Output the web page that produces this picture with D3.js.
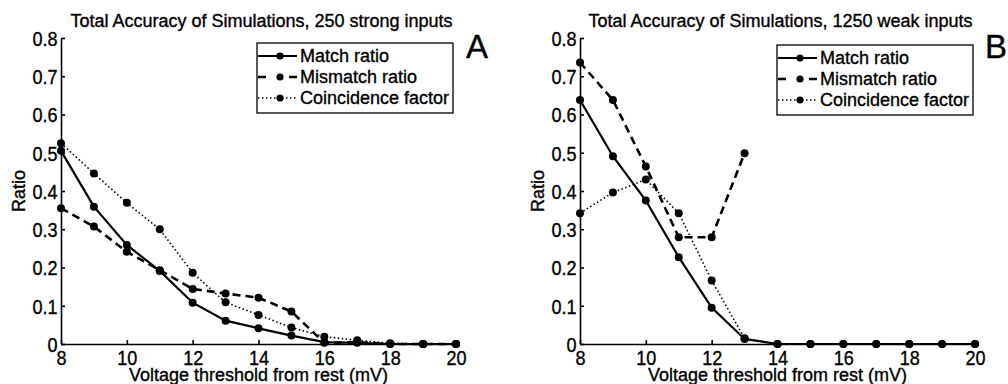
<!DOCTYPE html>
<html><head><meta charset="utf-8">
<script src="https://cdn.jsdelivr.net/npm/d3@7"></script>
<style>
body{margin:0;background:#fff}
svg text{font-family:"Liberation Sans",Arial,Helvetica,sans-serif;fill:#000;stroke:#000;stroke-width:0.35px}
</style>
</head><body>
<svg id="chart" width="1008" height="384"></svg>
<script>
const voltages = [8,9,10,11,12,13,14,15,16,17,18,19,20];
const xTicks = [8,10,12,14,16,18,20];
const yTicks = [0,0.1,0.2,0.3,0.4,0.5,0.6,0.7,0.8];
const yTickLabels = ["0","0.1","0.2","0.3","0.4","0.5","0.6","0.7","0.8"];
const seriesNames = ["Match ratio","Mismatch ratio","Coincidence factor"];
const panelTitles = ["Total Accuracy of Simulations, 250 strong inputs","Total Accuracy of Simulations, 1250 weak inputs"];
const panelLetters = ["A","B"];
const xLabel = "Voltage threshold from rest (mV)";
const yLabel = "Ratio";

const matchA    = [0.505,0.359,0.259,0.191,0.108,0.061,0.041,0.022,0.005,0.003,0,0,0];
const mismatchA = [0.355,0.307,0.241,0.193,0.144,0.132,0.121,0.085,0.003,0.005,0,0,0];
const coincA    = [0.525,0.446,0.369,0.300,0.186,0.109,0.076,0.043,0.019,0.010,0.002,0,0];

const matchB    = [0.638,0.491,0.375,0.227,0.095,0.013,0,0,0,0,0,0,0];
const mismatchB = [0.736,0.638,0.464,0.279,0.279,0.499,null,null,null,null,null,null,null];
const coincB    = [0.342,0.396,0.430,0.342,0.166,0.015,0,0,0,0,0,0,0];

const panels = [
  {left:61, right:456, series:[matchA,mismatchA,coincA], legend:{x:257,y:43,w:196,h:70}},
  {left:580, right:975, series:[matchB,mismatchB,coincB], legend:{x:777,y:45,w:196,h:70}}
];
const styles = [
  {dash:null, legendDash:null, width:2.2},
  {dash:"8,5", legendDash:"8,23", width:2.6},
  {dash:"1.5,2.5", legendDash:"1.5,2.5", width:1.6}
];
const plotTop = 38, plotBottom = 344;
const svg = d3.select("#chart");

panels.forEach((p, pi) => {
  const x = d3.scaleLinear().domain([8,20]).range([p.left, p.right]);
  const y = d3.scaleLinear().domain([0,0.8]).range([plotBottom, plotTop]);
  const g = svg.append("g");

  g.append("text").attr("x", (p.left+p.right)/2 + 3).attr("y", 27)
    .attr("text-anchor","middle").style("font-size","18px").text(panelTitles[pi]);
  g.append("text").attr("x", p.right + 10).attr("y", 58)
    .style("font-size","33px").text(panelLetters[pi]);

  const yAxis = d3.axisLeft(y).tickValues(yTicks).tickFormat((d,i)=>yTickLabels[i])
    .tickSizeInner(-4).tickSizeOuter(0).tickPadding(4);
  const ya = g.append("g").attr("transform",`translate(${p.left},0)`).call(yAxis);
  ya.selectAll("text").style("font-size","20.5px").attr("dy","0.36em")
    .attr("transform","scale(0.88,1)");
  ya.selectAll("path,line").attr("stroke","#000").attr("stroke-width",1.6);

  const xAxis = d3.axisBottom(x).tickValues(xTicks).tickFormat(d3.format("d"))
    .tickSizeInner(-4).tickSizeOuter(0).tickPadding(6);
  const xa = g.append("g").attr("transform",`translate(0,${plotBottom})`).call(xAxis);
  xa.selectAll("text").style("font-size","20.5px").attr("transform","scale(0.88,1)");
  xa.selectAll("path,line").attr("stroke","#000").attr("stroke-width",1.6);

  g.append("text").attr("x",(p.left+p.right)/2).attr("y",381)
    .attr("text-anchor","middle").style("font-size","18px").text(xLabel);
  g.append("text").attr("transform",`translate(${p.left-36},${(plotTop+plotBottom)/2}) rotate(-90)`)
    .attr("text-anchor","middle").style("font-size","18px").text(yLabel);

  p.series.forEach((vals, si) => {
    const pts = voltages.map((v,i)=>({x:v, y:vals[i]}));
    const line = d3.line().defined(d=>d.y!==null).x(d=>x(d.x)).y(d=>y(d.y));
    g.append("path").datum(pts).attr("d",line).attr("fill","none")
      .attr("stroke","#000").attr("stroke-width",styles[si].width)
      .attr("stroke-dasharray",styles[si].dash);
    g.selectAll(null).data(pts.filter(d=>d.y!==null)).enter().append("circle")
      .attr("cx",d=>x(d.x)).attr("cy",d=>y(d.y)).attr("r",4).attr("fill","#000");
  });

  const L = p.legend;
  const lg = g.append("g");
  lg.append("rect").attr("x",L.x).attr("y",L.y).attr("width",L.w).attr("height",L.h)
    .attr("fill","#fff").attr("stroke","#000").attr("stroke-width",1.3);
  seriesNames.forEach((name, si) => {
    const cy = L.y + 13 + si*21;
    lg.append("line").attr("x1",L.x+1).attr("x2",L.x+40).attr("y1",cy).attr("y2",cy)
      .attr("stroke","#000").attr("stroke-width",styles[si].width)
      .attr("stroke-dasharray",styles[si].legendDash);
    lg.append("circle").attr("cx",L.x+23).attr("cy",cy).attr("r",3.6).attr("fill","#000");
    lg.append("text").attr("x",L.x+43).attr("y",cy).attr("dy","0.35em")
      .style("font-size","18px").text(name);
  });
});
</script>
</body></html>
